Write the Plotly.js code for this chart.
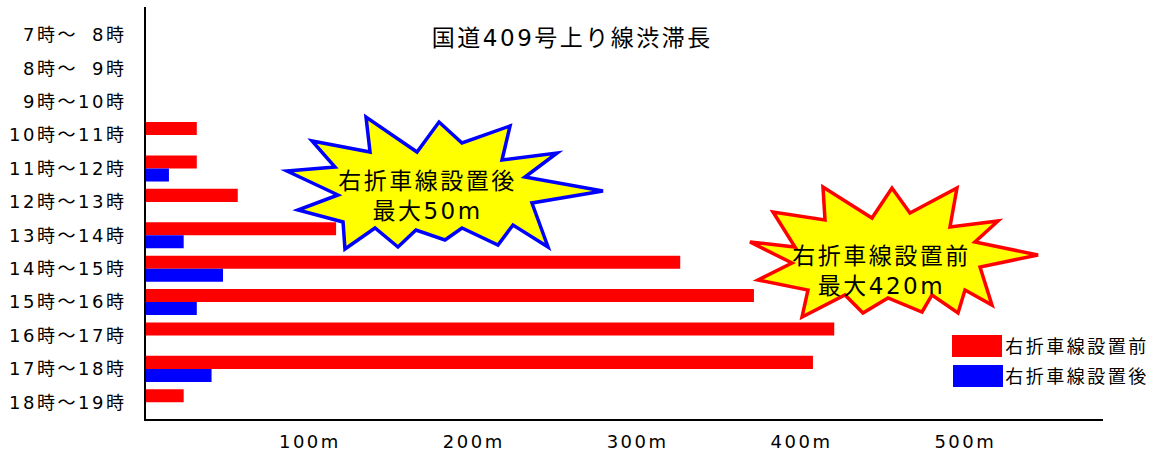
<!DOCTYPE html>
<html>
<head>
<meta charset="utf-8">
<script src="https://cdn.plot.ly/plotly-3.0.1.min.js"></script>
<style>
html,body{margin:0;padding:0;background:#fff;}
#chart{width:1168px;height:457px;}
#chart svg text{letter-spacing:2.5px;}
</style>
</head>
<body>
<div id="chart"></div>
<script>
// ---- data ----
const categories = ['7時～\u20078時','8時～\u20079時','9時～10時','10時～11時','11時～12時','12時～13時',
                    '13時～14時','14時～15時','15時～16時','16時～17時','17時～18時','18時～19時'];
const seriesNames = ['右折車線設置前','右折車線設置後'];
const beforeValues = [null,null,null,31,31,56,116,326,371,420,407,23];
const afterValues  = [null,null,null,null,14,null,23,47,31,null,40,null];
const xTickValues = [100,200,300,400,500];
const xTickLabels = ['100m','200m','300m','400m','500m'];
const titleText = '国道409号上り線渋滞長';
const calloutAfter = ['右折車線設置後','最大50m'];
const calloutBefore = ['右折車線設置前','最大420m'];
const seriesColors = ['#FF0000','#0000FF'];

// ---- layout helpers (decoration geometry, pixel -> paper) ----
const PL = 146, PR = 1103, PT = 7, PB = 419;
const px = x => (x - PL) / (PR - PL);
const py = y => (PB - y) / (PB - PT);
function starPath(pts){
  return 'M' + pts.map(p => px(p[0]).toFixed(4) + ',' + py(p[1]).toFixed(4)).join(' L') + ' Z';
}
const blueStar = [[287,171],[335,167],[312,141],[370,152],[366,117],[417,152],[439,122],[462,143],
  [510,126],[502,160],[557,153],[525,177],[603,191],[532,203],[548,247],[513,225],[498,245],
  [462,228],[445,240],[416,230],[398,247],[375,228],[345,249],[343,222],[298,210],[338,195]];
const redStar = [[750,242],[795,247],[773,212],[825,220],[823,187],[872,218],[892,188],[910,213],
  [957,188],[950,227],[998,221],[975,242],[1038,255],[980,267],[992,305],[965,290],[958,313],
  [932,295],[922,312],[888,298],[863,313],[845,295],[802,317],[808,290],[758,280],[792,263]];

const FONT = 'DejaVu Sans, "Noto Sans CJK JP", sans-serif';

const traces = [
  {type:'bar', orientation:'h', name:seriesNames[0], y:categories, x:beforeValues,
   marker:{color:seriesColors[0]}, hoverinfo:'none', showlegend:false},
  {type:'bar', orientation:'h', name:seriesNames[1], y:categories, x:afterValues,
   marker:{color:seriesColors[1]}, hoverinfo:'none', showlegend:false}
];

const layout = {
  width:1168, height:457,
  margin:{l:PL, r:1168-PR, t:PT, b:457-PB, pad:0},
  paper_bgcolor:'#fff', plot_bgcolor:'#fff',
  font:{family:FONT, color:'#000', size:18},
  barmode:'group', bargap:0.22, bargroupgap:0,
  title:{text:titleText, font:{family:FONT, size:23, color:'#000'},
         x:0.49, xref:'container', xanchor:'center', y:1-38/457, yref:'container', yanchor:'middle'},
  xaxis:{range:[0,584], tickvals:xTickValues, ticktext:xTickLabels, showgrid:false, zeroline:false,
         showline:true, linecolor:'#000', linewidth:2, ticks:'outside', ticklen:5, tickcolor:'rgba(0,0,0,0)',
         tickfont:{family:FONT, size:18, color:'#000'}, fixedrange:true},
  yaxis:{type:'category', range:[11.5,-0.835], showgrid:false, zeroline:false,
         showline:true, linecolor:'#000', linewidth:2, ticks:'outside', ticklen:14, tickcolor:'rgba(0,0,0,0)',
         tickfont:{family:FONT, size:18, color:'#000'}, fixedrange:true},
  shapes:[
    {type:'path', xref:'paper', yref:'paper', path:starPath(blueStar), fillcolor:'#FFFF00',
     line:{color:'#0000FF', width:3.5}, layer:'above'},
    {type:'path', xref:'paper', yref:'paper', path:starPath(redStar), fillcolor:'#FFFF00',
     line:{color:'#FF0000', width:3.5}, layer:'above'},
    {type:'rect', xref:'paper', yref:'paper', x0:px(952), x1:px(1002), y0:py(357), y1:py(335),
     fillcolor:seriesColors[0], line:{width:0}},
    {type:'rect', xref:'paper', yref:'paper', x0:px(953), x1:px(1003), y0:py(387), y1:py(365),
     fillcolor:seriesColors[1], line:{width:0}}
  ],
  annotations:[
    {xref:'paper', yref:'paper', x:px(427), y:py(196), text:calloutAfter.join('<br>'), showarrow:false,
     font:{family:FONT, size:23, color:'#000'}, xanchor:'center', yanchor:'middle', align:'center'},
    {xref:'paper', yref:'paper', x:px(881), y:py(271), text:calloutBefore.join('<br>'), showarrow:false,
     font:{family:FONT, size:23, color:'#000'}, xanchor:'center', yanchor:'middle', align:'center'},
    {xref:'paper', yref:'paper', x:px(1012), y:py(346), text:seriesNames[0], showarrow:false,
     font:{family:FONT, size:18, color:'#000'}, xanchor:'left', yanchor:'middle'},
    {xref:'paper', yref:'paper', x:px(1012), y:py(376), text:seriesNames[1], showarrow:false,
     font:{family:FONT, size:18, color:'#000'}, xanchor:'left', yanchor:'middle'}
  ]
};

Plotly.newPlot('chart', traces, layout, {staticPlot:true, displayModeBar:false});
</script>
</body>
</html>
